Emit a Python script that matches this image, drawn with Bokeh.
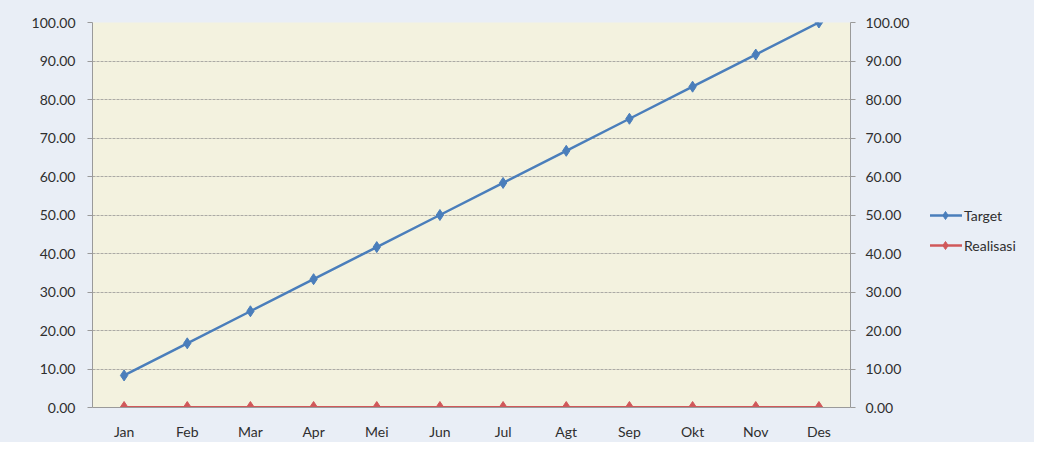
from bokeh.plotting import figure
from bokeh.layouts import row
from bokeh.models import (LinearAxis, Range1d, NumeralTickFormatter, Legend, LegendItem,
                          FixedTicker)
from bokeh.embed import file_html
from bokeh.resources import INLINE

months = ["Jan", "Feb", "Mar", "Apr", "Mei", "Jun", "Jul", "Agt", "Sep", "Okt", "Nov", "Des"]
target = [8.33, 16.67, 25.00, 33.33, 41.67, 50.00, 58.33, 66.67, 75.00, 83.33, 91.67, 100.00]
realisasi = [0, 0, 0, 0, 0, 0, 0, 0, 0, 0, 0, 0]
y_ticks = [0, 10, 20, 30, 40, 50, 60, 70, 80, 90, 100]

FONT = "Lato"
BLUE = "#4a7ebb"
RED = "#d0585a"
BG = "#e9eef6"

p = figure(x_range=months, y_range=Range1d(0, 100), width=930, height=442,
           output_backend="svg", toolbar_location=None,
           min_border_left=92, min_border_right=80, min_border_top=22, min_border_bottom=29)
p.background_fill_color = "#f3f2df"
p.border_fill_color = BG
p.outline_line_color = None

ticker = FixedTicker(ticks=y_ticks)
p.yaxis[0].ticker = ticker
p.yaxis[0].formatter = NumeralTickFormatter(format="0.00")
right = LinearAxis(ticker=ticker, formatter=NumeralTickFormatter(format="0.00"))
p.add_layout(right, "right")

for ax in [p.xaxis[0], p.yaxis[0], right]:
    ax.axis_line_color = "#9a9a9a"
    ax.major_tick_line_color = "#9a9a9a"
    ax.minor_tick_line_color = None
    ax.major_tick_out = 5
    ax.major_tick_in = 0
    ax.major_label_text_font = FONT
    ax.major_label_text_font_size = "14px"
    ax.major_label_text_color = "#2f2f2f"
p.yaxis[0].major_label_standoff = 12
right.major_label_standoff = 10
p.xaxis[0].major_label_standoff = 10
p.xaxis[0].major_tick_line_color = None

p.xgrid.grid_line_color = None
p.ygrid.ticker = ticker
p.ygrid.grid_line_color = "#8c8c8c"
p.ygrid.grid_line_alpha = 0.7
p.ygrid.grid_line_dash = "3 1"

p.line(months, target, line_color=BLUE, line_width=2.5)
p.scatter(months, target, marker="diamond", size=11, fill_color=BLUE, line_color=BLUE)
p.line(months, realisasi, line_color=RED, line_width=3)
p.scatter(months, realisasi, marker="diamond", size=12, fill_color=RED, line_color=RED)

# legend-only panel to the right (series drawn off-screen there, only the key is visible)
q = figure(x_range=months, y_range=Range1d(500, 600), width=104, height=442,
           output_backend="svg", toolbar_location=None,
           x_axis_location=None, y_axis_location=None,
           min_border_left=0, min_border_right=0, min_border_top=0, min_border_bottom=0)
q.background_fill_color = BG
q.border_fill_color = BG
q.outline_line_color = None
q.grid.grid_line_color = None
l1 = q.line(months, target, line_color=BLUE, line_width=2.5)
m1 = q.scatter(months, target, marker="diamond", size=9, fill_color=BLUE, line_color=BLUE)
l2 = q.line(months, realisasi, line_color=RED, line_width=2.5)
m2 = q.scatter(months, realisasi, marker="diamond", size=9, fill_color=RED, line_color=RED)

legend = Legend(items=[LegendItem(label="Target", renderers=[l1, m1]),
                       LegendItem(label="Realisasi", renderers=[l2, m2])],
                location=(-2, 152))
legend.background_fill_alpha = 0
legend.border_line_color = None
legend.label_text_font = FONT
legend.label_text_font_size = "14px"
legend.label_text_color = "#2f2f2f"
legend.glyph_width = 34
legend.label_standoff = 2
legend.spacing = 10
legend.padding = 4
q.add_layout(legend)

layout = row(p, q, spacing=0, styles={"background-color": BG})
open("out.html", "w").write(file_html(layout, INLINE))
